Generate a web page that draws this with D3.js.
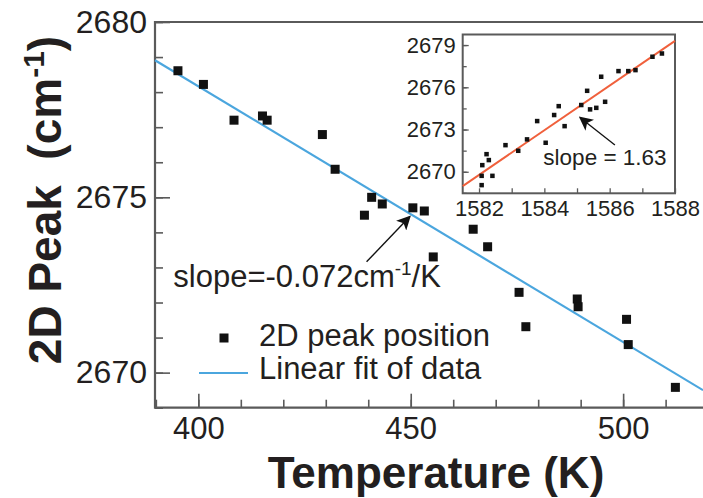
<!DOCTYPE html>
<html><head><meta charset="utf-8">
<script src="https://cdn.jsdelivr.net/npm/d3@7"></script>
<style>
html,body{margin:0;padding:0;background:#fff;}
text{font-family:"Liberation Sans",Arial,Helvetica,sans-serif;fill:#231f20;}
</style></head>
<body><svg id="chart" width="703" height="498"></svg>
<script>
// ---- main data: temperature (K) vs 2D peak (cm^-1)
const temperature = [395.2,401.2,408.4,415.1,416.2,429.2,432.2,440.8,439.1,443.3,450.5,453.2,455.3,464.7,468.1,475.5,477.1,489.2,489.4,500.8,501.2,512.3];
const peak2D      = [2678.61,2678.22,2677.20,2677.32,2677.20,2676.79,2675.80,2675.00,2674.49,2674.81,2674.70,2674.61,2673.30,2674.09,2673.59,2672.29,2671.31,2672.10,2671.88,2671.52,2670.80,2669.58];
const fitT = [389.8, 518.8];
const fitV = [2678.91, 2669.50];
const xTicksMain = [400,450,500];
const yTicksMain = [2670,2675,2680];

// ---- inset data: G peak (cm^-1) vs 2D peak (cm^-1)
const gPeak  = [1582.10,1582.23,1582.30,1582.08,1582.08,1582.41,1582.81,1583.20,1583.47,1583.78,1584.04,1584.30,1584.44,1584.62,1585.13,1585.31,1585.40,1585.59,1585.74,1585.86,1586.27,1586.57,1586.79,1587.31,1587.60];
const gPeak2D= [2670.47,2671.25,2670.83,2669.71,2669.05,2669.71,2671.89,2671.49,2672.30,2673.60,2672.06,2674.03,2674.66,2673.24,2674.74,2675.75,2674.43,2674.54,2676.75,2674.97,2677.15,2677.15,2677.22,2678.17,2678.40];
const insetFitX = [1581.5, 1588.0];
const insetFitV = [2668.98, 2679.30];
const xTicksInset = [1582,1584,1586,1588];
const yTicksInset = [2670,2673,2676,2679];

const svg = d3.select("#chart");
const frameColor = "#5a5a5a";
const blue = "#4ba6de", red = "#f0603c";

// ---- main scales
const x = d3.scaleLinear().domain([389.8, 518.8]).range([155, 703]);
const y = d3.scaleLinear().domain([2669, 2680]).range([407.7, 22]);

svg.append("defs").append("marker").attr("id","ah2")
  .attr("viewBox","0 0 10 10").attr("refX",9).attr("refY",5)
  .attr("markerWidth",14).attr("markerHeight",14).attr("markerUnits","userSpaceOnUse")
  .attr("orient","auto")
  .append("path").attr("d","M0,0 L10,5 L0,10 L2.5,5 Z").attr("fill","#111");

// minor ticks
svg.append("g").attr("transform","translate(155,0)")
  .call(d3.axisLeft(y).tickValues(d3.range(2669,2681,1)).tickSize(-8).tickFormat(""))
  .call(g=>g.select(".domain").remove())
  .call(g=>g.selectAll("line").attr("stroke",frameColor).attr("stroke-width",1.6));
svg.append("g").attr("transform","translate(0,407.7)")
  .call(d3.axisBottom(x).tickValues(d3.range(390,520,10)).tickSize(-8).tickFormat(""))
  .call(g=>g.select(".domain").remove())
  .call(g=>g.selectAll("line").attr("stroke",frameColor).attr("stroke-width",1.6));
// major ticks + labels
svg.append("g").attr("transform","translate(155,0)")
  .call(d3.axisLeft(y).tickValues(yTicksMain).tickSize(-15).tickPadding(8).tickFormat(d3.format("d")))
  .call(g=>g.select(".domain").remove())
  .call(g=>g.selectAll("line").attr("stroke",frameColor).attr("stroke-width",1.6))
  .call(g=>g.selectAll("text").style("font-size","32px").attr("fill","#231f20"));
svg.append("g").attr("transform","translate(0,407.7)")
  .call(d3.axisBottom(x).tickValues(xTicksMain).tickSize(-14).tickPadding(9).tickFormat(d3.format("d")))
  .call(g=>g.select(".domain").remove())
  .call(g=>g.selectAll("line").attr("stroke",frameColor).attr("stroke-width",1.6))
  .call(g=>g.selectAll("text").style("font-size","31px").attr("fill","#231f20"));

// frame (right edge lies outside the picture)
svg.append("path").attr("d",`M720,${y(2680)} H155 V${y(2669)} H720`)
  .attr("fill","none").attr("stroke",frameColor).attr("stroke-width",2.2);

// fit line
svg.append("line").attr("x1",x(fitT[0])).attr("y1",y(fitV[0])).attr("x2",x(fitT[1])).attr("y2",y(fitV[1]))
  .attr("stroke",blue).attr("stroke-width",2.2);

// data markers
const ms = 9;
svg.append("g").selectAll("rect").data(temperature).join("rect")
  .attr("x",(d,i)=>x(d)-ms/2).attr("y",(d,i)=>y(peak2D[i])-ms/2)
  .attr("width",ms).attr("height",ms).attr("fill","#111");

// annotation main
svg.append("line").attr("x1",x(439.6)).attr("y1",y(2673.16)).attr("x2",x(449.8)).attr("y2",y(2674.45))
  .attr("stroke","#111").attr("stroke-width",1.4).attr("marker-end","url(#ah2)");
const ann = svg.append("text").attr("x",x(394.1)).attr("y",y(2672.45)).style("font-size","31px");
ann.append("tspan").text("slope=-0.072cm");
ann.append("tspan").attr("dy",-12).style("font-size","19px").text("-1");
ann.append("tspan").attr("dy",12).text("/K");

// legend
svg.append("rect").attr("x",224-ms/2).attr("y",338-ms/2).attr("width",ms).attr("height",ms).attr("fill","#111");
svg.append("text").attr("x",259).attr("y",346).style("font-size","31px").text("2D peak position");
svg.append("line").attr("x1",199).attr("x2",248).attr("y1",373).attr("y2",373).attr("stroke",blue).attr("stroke-width",2.2);
svg.append("text").attr("x",259).attr("y",379).style("font-size","31px").text("Linear fit of data");

// axis titles
svg.append("text").attr("x",436).attr("y",487.5).attr("text-anchor","middle")
  .style("font-size","44px").style("font-weight","bold").text("Temperature (K)");
const yl = svg.append("text").attr("transform","translate(61,200) rotate(-90)").attr("text-anchor","middle")
  .style("font-size","46px").style("font-weight","bold");
yl.append("tspan").text("2D Peak\u00a0 (cm");
yl.append("tspan").attr("dy",-17).style("font-size","30px").text("-1");
yl.append("tspan").attr("dy",17).text(")");

// ---- inset
const xi = d3.scaleLinear().domain([1581.5, 1588]).range([462.7, 675]);
const yi = d3.scaleLinear().domain([2668.47, 2679.75]).range([193.3, 34.5]);
svg.append("rect").attr("x",462.7).attr("y",34.5).attr("width",675-462.7).attr("height",193.3-34.5).attr("fill","#fff");
svg.append("g").attr("transform","translate(462.7,0)")
  .call(d3.axisLeft(yi).tickValues(d3.range(2668.5,2679.8,1.5)).tickSize(-4).tickFormat(""))
  .call(g=>g.select(".domain").remove())
  .call(g=>g.selectAll("line").attr("stroke",frameColor).attr("stroke-width",1.3));
svg.append("g").attr("transform","translate(462.7,0)")
  .call(d3.axisLeft(yi).tickValues(yTicksInset).tickSize(-6).tickPadding(7).tickFormat(d3.format("d")))
  .call(g=>g.select(".domain").remove())
  .call(g=>g.selectAll("line").attr("stroke",frameColor).attr("stroke-width",1.3))
  .call(g=>g.selectAll("text").style("font-size","22px").attr("fill","#231f20"));
svg.append("g").attr("transform","translate(0,193.3)")
  .call(d3.axisBottom(xi).tickValues(d3.range(1582,1589,1)).tickSize(-5).tickFormat(""))
  .call(g=>g.select(".domain").remove())
  .call(g=>g.selectAll("line").attr("stroke",frameColor).attr("stroke-width",1.3));
svg.append("g").attr("transform","translate(0,193.3)")
  .call(d3.axisBottom(xi).tickValues(xTicksInset).tickSize(0).tickPadding(7).tickFormat(d3.format("d")))
  .call(g=>g.select(".domain").remove())
  .call(g=>g.selectAll("text").style("font-size","22px").attr("fill","#231f20"));
svg.append("rect").attr("x",462.7).attr("y",34.5).attr("width",675-462.7).attr("height",193.3-34.5)
  .attr("fill","none").attr("stroke",frameColor).attr("stroke-width",2);
svg.append("line").attr("x1",xi(insetFitX[0])).attr("y1",yi(insetFitV[0])).attr("x2",xi(insetFitX[1])).attr("y2",yi(insetFitV[1]))
  .attr("stroke",red).attr("stroke-width",2);
const is = 4.5;
svg.append("g").selectAll("rect").data(gPeak).join("rect")
  .attr("x",d=>xi(d)-is/2).attr("y",(d,i)=>yi(gPeak2D[i])-is/2)
  .attr("width",is).attr("height",is).attr("fill","#111");
svg.append("line").attr("x1",xi(1586.16)).attr("y1",yi(2671.9)).attr("x2",xi(1585.09)).attr("y2",yi(2673.86))
  .attr("stroke","#111").attr("stroke-width",1.3).attr("marker-end","url(#ah2)");
svg.append("text").attr("x",xi(1583.97)).attr("y",yi(2670.48)).style("font-size","22.5px").text("slope = 1.63");
</script></body></html>
